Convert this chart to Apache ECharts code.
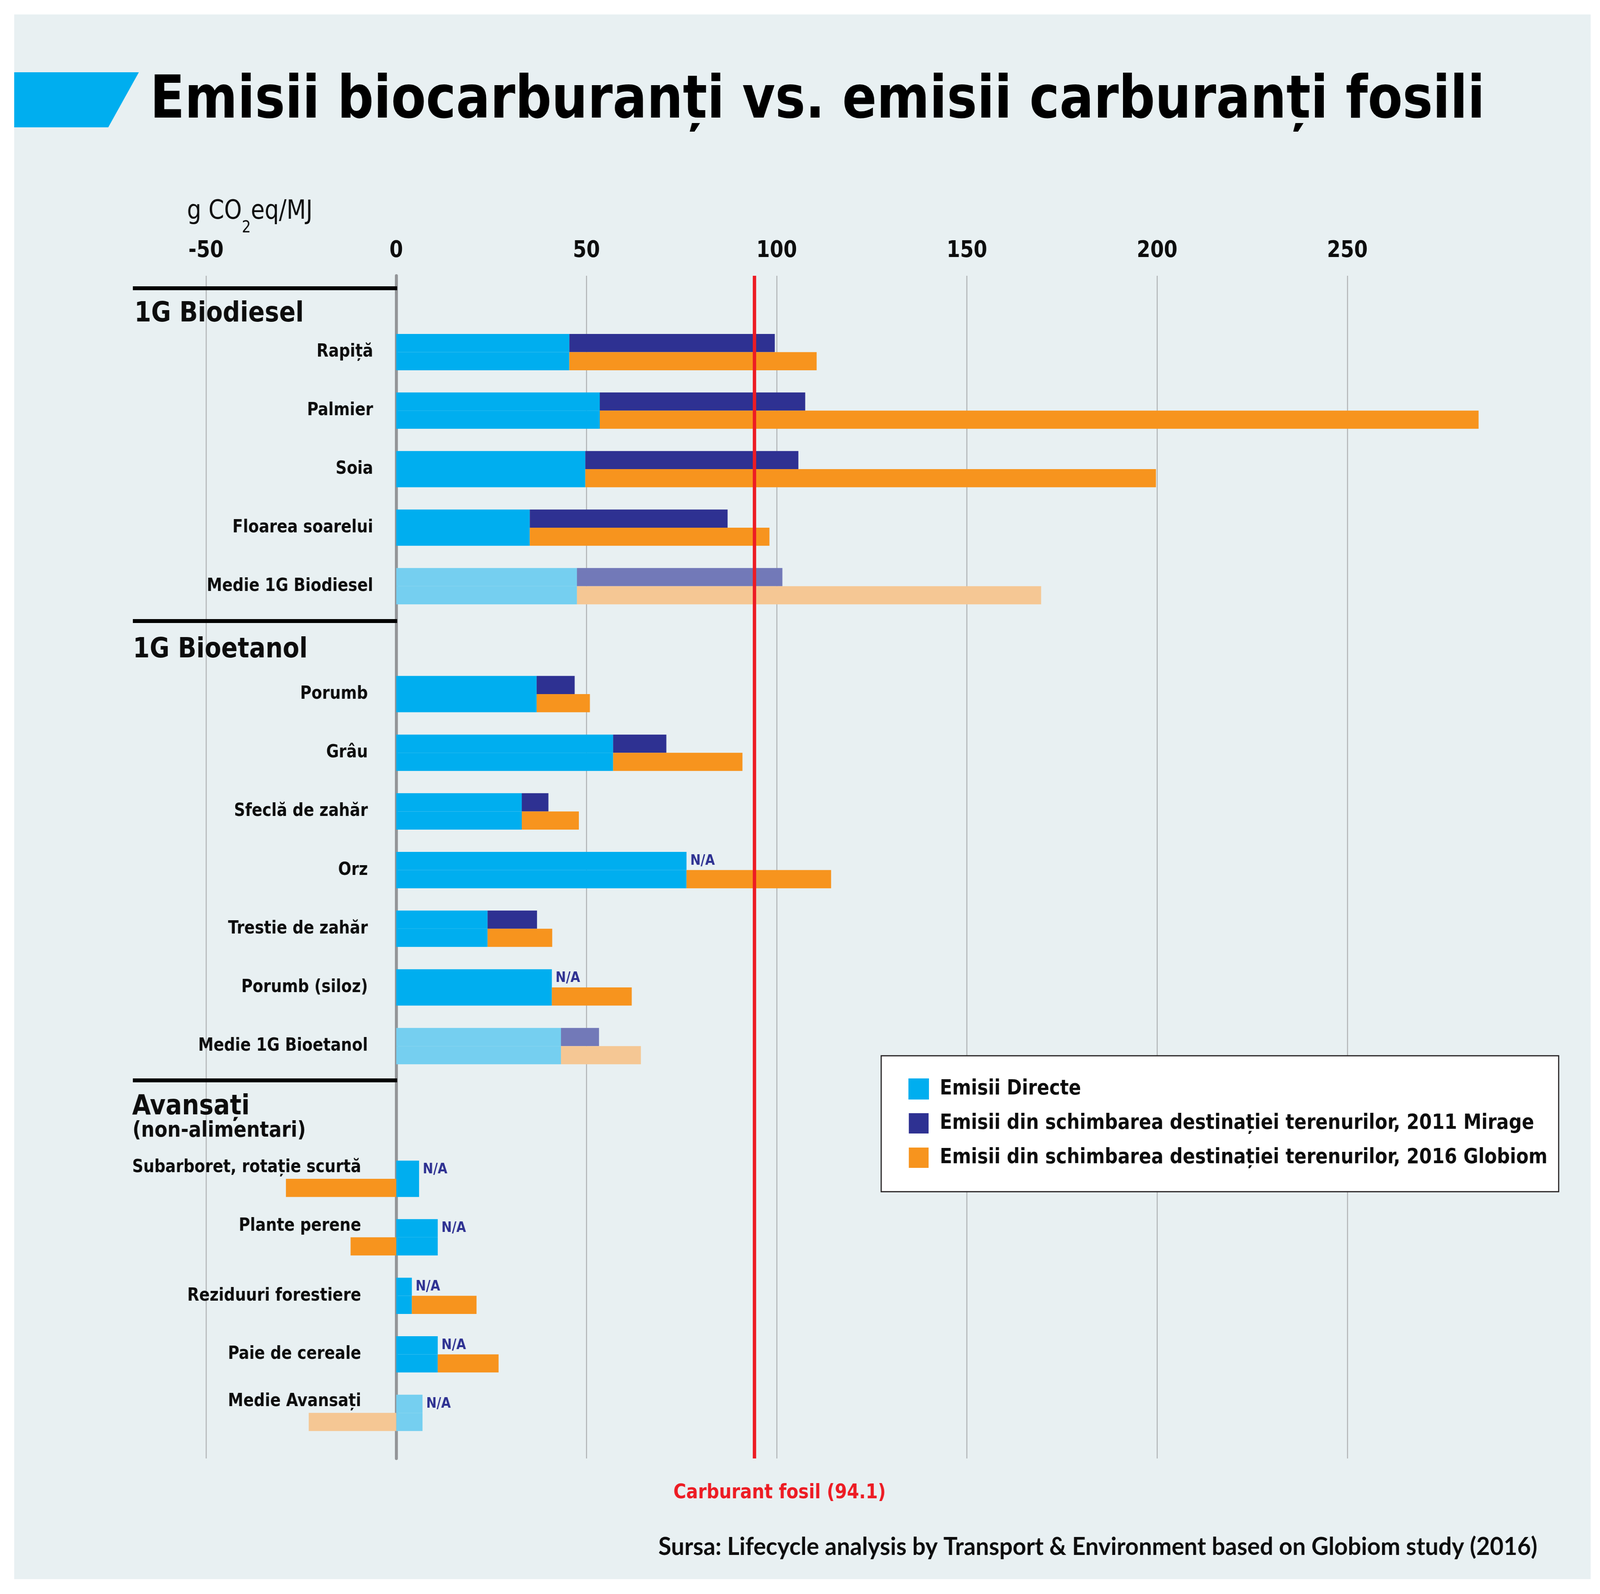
<!DOCTYPE html>
<html><head><meta charset="utf-8">
<script src="https://cdn.jsdelivr.net/npm/echarts@6/dist/echarts.min.js"></script>
<style>html,body{margin:0;padding:0;background:#fff;overflow:hidden}#c{width:4287px;height:4081px;transform-origin:0 0}</style>
</head><body><div id="c"></div>
<script>
// ---------- DATA ----------
const bdCats = ['Rapiță', 'Palmier', 'Soia', 'Floarea soarelui', 'Medie 1G Biodiesel'];
const bdDirect = [45.5, 53.5, 49.7, 35.1, 47.5];
const bdMirage = [54, 54, 56, 52, 54];
const bdGlobiom = [65, 231, 150, 63, 122];

const beCats = ['Porumb', 'Grâu', 'Sfeclă de zahăr', 'Orz', 'Trestie de zahăr', 'Porumb (siloz)', 'Medie 1G Bioetanol'];
const beDirect = [36.9, 57.0, 33.0, 76.3, 24.0, 40.9, 43.3];
const beMirage = [10, 14, 7, null, 13, null, 10];
const beGlobiom = [14, 34, 15, 38, 17, 21, 21];

const avCats = ['Subarboret, rotație scurtă', 'Plante perene', 'Reziduuri forestiere', 'Paie de cereale', 'Medie Avansați'];
const avDirect = [6.0, 10.9, 4.1, 10.9, 6.9];
const avMirage = [null, null, null, null, null];
const avGlobiom = [-29, -12, 17, 16, -23];

const sectionTitles = ['1G Biodiesel', '1G Bioetanol', 'Avansați'];
const fossilValue = 94.1;
const xTicks = [-50, 0, 50, 100, 150, 200, 250];

const seriesNames = ['Emisii Directe',
  'Emisii din schimbarea destinației terenurilor, 2011 Mirage',
  'Emisii din schimbarea destinației terenurilor, 2016 Globiom'];

// ---------- STYLE / LAYOUT (designed on a 4287 x 4081 canvas) ----------
const DW = 4287, DH = 4081;
const NARROW = "'DejaVu Sans Condensed', 'DejaVu Sans', sans-serif";
const BLUE = '#00AEEF', NAVY = '#2E3192', ORANGE = '#F7941E';
const LBLUE = '#75CFF0', LNAVY = '#7279B8', LORANGE = '#F5C794';
const TXT = '#0d0d0d';

const GL = 552, GW = 3058;
const zeroOffset = (0 - xTicks[0]) / (xTicks[xTicks.length - 1] - xTicks[0]) * GW;
const sections = [
  { cats: bdCats, direct: bdDirect, mirage: bdMirage, globiom: bdGlobiom, top: 826.6, rowH: 149.8, margin: 62 },
  { cats: beCats, direct: beDirect, mirage: beMirage, globiom: beGlobiom, top: 1701.9, rowH: 150.2, margin: 76 },
  { cats: avCats, direct: avDirect, mirage: avMirage, globiom: avGlobiom, top: 2943.1, rowH: 149.8, margin: 94 }
];

const grid = [{ left: GL, width: GW, top: 706, height: 3028, outerBoundsMode: 'none', containLabel: false }];
const xAxis = [{
  gridIndex: 0, type: 'value', position: 'top', min: xTicks[0], max: xTicks[xTicks.length - 1], interval: 50,
  axisLine: { show: false, onZero: false }, axisTick: { show: false },
  axisLabel: { margin: 34, fontSize: 58, fontWeight: 'bold', fontFamily: NARROW, color: TXT,
    formatter: v => xTicks.indexOf(v) >= 0 ? String(v) : '' },
  splitLine: { show: true, lineStyle: { color: '#ADAFB1', width: 2.5 } }
}];
const yAxis = [{
  gridIndex: 0, type: 'value', min: 0, max: 1,
  axisLine: { show: true, onZero: true, lineStyle: { color: '#939598', width: 8 } },
  axisTick: { show: false }, axisLabel: { show: false }, splitLine: { show: false }
}];
const series = [{
  type: 'line', xAxisIndex: 0, yAxisIndex: 0, data: [], silent: true, z: 10,
  markLine: {
    silent: true, symbol: 'none', z: 10,
    lineStyle: { color: '#ED1C24', width: 9, type: 'solid' },
    label: { show: true, position: 'start', distance: 62, formatter: 'Carburant fosil (' + fossilValue + ')',
      color: '#ED1C24', fontSize: 52, fontWeight: 'bold', fontFamily: NARROW, padding: [0, 0, 0, 136] },
    data: [{ xAxis: fossilValue }]
  }
}];

sections.forEach((s, k) => {
  const gi = k + 1, n = s.cats.length;
  grid.push({ left: GL, width: GW, top: s.top, height: s.rowH * n, outerBoundsMode: 'none', containLabel: false });
  xAxis.push({ gridIndex: gi, type: 'value', min: xTicks[0], max: xTicks[xTicks.length - 1], show: false });
  yAxis.push({
    gridIndex: gi, type: 'category', inverse: true, data: s.cats, offset: -zeroOffset,
    axisLine: { show: false, onZero: false }, axisTick: { show: false },
    axisLabel: { margin: s.margin, fontSize: 46, fontWeight: 'bold', fontFamily: NARROW, color: TXT,
      formatter: (v, i) => s.globiom[i] < 0 ? '{up|' + v + '}' : '{n|' + v + '}',
      rich: {
        up: { fontSize: 46, fontWeight: 'bold', fontFamily: NARROW, color: TXT, padding: [0, 0, 58, 0] },
        n: { fontSize: 46, fontWeight: 'bold', fontFamily: NARROW, color: TXT }
      } }
  });
  const mk = (arr, light, seam) => arr.map((v, i) => v == null ? '-' :
    (i === n - 1 ? { value: v, itemStyle: seam ? { color: light, borderColor: light } : { color: light } } : v));
  const common = { type: 'bar', xAxisIndex: gi, yAxisIndex: gi, barWidth: s.rowH * 0.62 / 2, barGap: '0%', clip: false, z: 2 };
  series.push(Object.assign({}, common, {
    name: seriesNames[0], stack: 'up' + k, itemStyle: { color: BLUE, borderColor: BLUE, borderWidth: 1.5 }, data: mk(s.direct, LBLUE, true),
    label: { show: true, position: 'right', distance: 10, color: NAVY, fontSize: 37, fontWeight: 'bold', fontFamily: NARROW,
      formatter: p => s.mirage[p.dataIndex] == null ? 'N/A' : '' }
  }));
  series.push(Object.assign({}, common, {
    name: seriesNames[1], stack: 'up' + k, itemStyle: { color: NAVY }, data: mk(s.mirage, LNAVY, false)
  }));
  series.push(Object.assign({}, common, {
    name: seriesNames[0], stack: 'lo' + k, itemStyle: { color: BLUE, borderColor: BLUE, borderWidth: 1.5 }, data: mk(s.direct, LBLUE, true)
  }));
  series.push(Object.assign({}, common, {
    name: seriesNames[2], stack: 'lo' + k, itemStyle: { color: ORANGE }, data: mk(s.globiom, LORANGE, false)
  }));
});

const hdr = (text, x, y, size) => ({ type: 'text', x: x, y: y, z: 50,
  style: { text: text, fill: TXT, fontSize: size, fontWeight: 'bold', fontFamily: NARROW, align: 'left', verticalAlign: 'middle' } });
const bline = y => ({ type: 'rect', z: 50, shape: { x: 356, y: y - 5, width: 708, height: 10 }, style: { fill: '#000' } });

const option = {
  animation: false,
  grid: grid, xAxis: xAxis, yAxis: yAxis, series: series,
  legend: {
    data: seriesNames, orient: 'vertical', left: 2361, top: 2703, z: 20,
    itemWidth: 53, itemHeight: 52, itemGap: 34, icon: 'rect', selectedMode: false,
    padding: [58, 30, 60, 73], backgroundColor: '#ffffff', borderColor: '#231F20', borderWidth: 3, borderRadius: 0,
    textStyle: { fontSize: 54, fontWeight: 'bold', fontFamily: NARROW, color: TXT, padding: [0, 0, 0, 25] }
  },
  graphic: [
    { type: 'rect', z: -100, silent: true, shape: { x: 38, y: 37, width: 4224, height: 4006 }, style: { fill: '#E8F0F2' } },
    { type: 'polygon', z: 50, shape: { points: [[38, 185], [372, 185], [290, 326], [38, 326]] }, style: { fill: BLUE } },
    { type: 'text', x: 402, y: 262, z: 50, style: { text: 'Emisii biocarburanți vs. emisii carburanți fosili', fill: '#000',
      fontSize: 151, fontWeight: 'bold', fontFamily: NARROW, align: 'left', verticalAlign: 'middle' } },
    { type: 'text', x: 501, y: 509, z: 50, style: { text: '{a|g CO}{s|2}{a|eq/MJ}', align: 'left', verticalAlign: 'top',
      rich: { a: { fontSize: 67, fontFamily: NARROW, fill: TXT, color: TXT, verticalAlign: 'top', lineHeight: 74 },
              s: { fontSize: 42, fontFamily: NARROW, fill: TXT, color: TXT, verticalAlign: 'top', lineHeight: 42, padding: [54, 0, 0, 0] } } } },
    bline(738), bline(1590), bline(2766),
    hdr(sectionTitles[0], 360, 804, 72),
    hdr(sectionTitles[1], 356, 1664, 72),
    hdr(sectionTitles[2], 354, 2834, 72),
    hdr('(non-alimentari)', 355, 2895, 56),
    { type: 'text', x: 4119, y: 3961, z: 50, style: { text: 'Sursa: Lifecycle analysis by Transport & Environment based on Globiom study (2016)',
      fill: TXT, fontSize: 63, fontWeight: 'bold', fontFamily: "Lato, 'Open Sans', sans-serif", align: 'right', verticalAlign: 'middle' } }
  ]
};
const el = document.getElementById('c');
const sx = (window.innerWidth || DW) / DW, sy = (window.innerHeight || DH) / DH;
el.style.transform = 'scale(' + sx + ',' + sy + ')';
const chart = echarts.init(el, null, { width: DW, height: DH });
chart.setOption(option);
</script></body></html>
